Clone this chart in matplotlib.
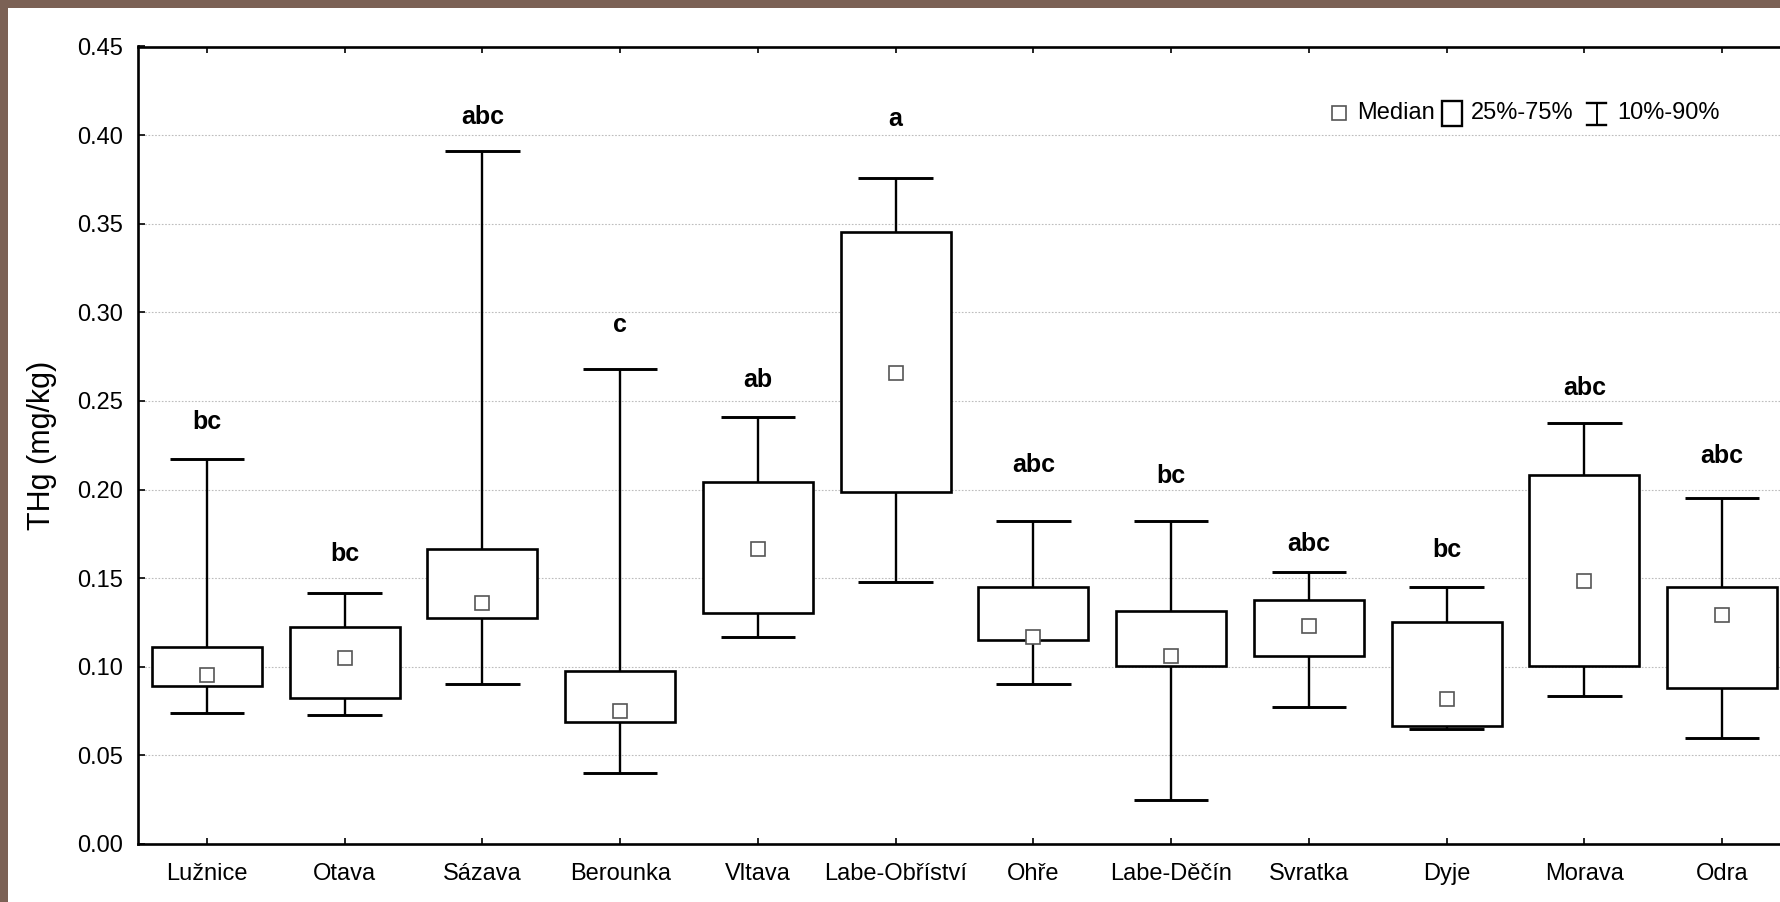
import matplotlib
matplotlib.use("Agg")
import matplotlib.pyplot as plt
from matplotlib.patches import Rectangle
from matplotlib.lines import Line2D

plt.rcParams['font.family'] = ['Liberation Sans', 'DejaVu Sans']

categories = ["Lužnice", "Otava", "Sázava", "Berounka", "Vltava", "Labe-Obříství",
              "Ohře", "Labe-Děčín", "Svratka", "Dyje", "Morava", "Odra"]
p10 = [0.0738, 0.0730, 0.0905, 0.0401, 0.1167, 0.1480, 0.0902, 0.0249, 0.0771, 0.0647, 0.0833, 0.0596]
q25 = [0.0889, 0.0823, 0.1273, 0.0687, 0.1303, 0.1985, 0.1150, 0.1003, 0.1060, 0.0668, 0.1003, 0.0878]
median = [0.0953, 0.1052, 0.1362, 0.0750, 0.1664, 0.2660, 0.1168, 0.1058, 0.1230, 0.0820, 0.1482, 0.1294]
q75 = [0.1114, 0.1222, 0.1665, 0.0977, 0.2040, 0.3455, 0.1452, 0.1313, 0.1376, 0.1255, 0.2081, 0.1448]
p90 = [0.2175, 0.1418, 0.3908, 0.2683, 0.2410, 0.3760, 0.1825, 0.1822, 0.1532, 0.1450, 0.2375, 0.1955]
letters = ["bc", "bc", "abc", "c", "ab", "a", "abc", "bc", "abc", "bc", "abc", "abc"]
letter_y = [0.2344, 0.1595, 0.4060, 0.2890, 0.2576, 0.4054, 0.2100, 0.2035, 0.1655, 0.1622, 0.2535, 0.2150]
yticks = [0.00, 0.05, 0.10, 0.15, 0.20, 0.25, 0.30, 0.35, 0.40, 0.45]
ylabel = "THg (mg/kg)"
legend_labels = ["Median", "25%-75%", "10%-90%"]

W, H = 1780, 902
fig = plt.figure(figsize=(W / 100, H / 100), dpi=100)
fig.patch.set_facecolor("white")

ax = fig.add_axes([138 / W, 1 - 844 / H, 1 - 138 / W, (844 - 46.5) / H])
ax.set_xlim(-0.5, 11.42)
ax.set_ylim(0, 0.45)

x = list(range(len(categories)))
box_w = 0.8
cap_w = 0.54
lw = 1.7

# whiskers
ax.vlines(x, p10, q25, colors="black", lw=lw, zorder=3)
ax.vlines(x, q75, p90, colors="black", lw=lw, zorder=3)
ax.hlines(p10, [i - cap_w / 2 for i in x], [i + cap_w / 2 for i in x], colors="black", lw=lw + 0.4, zorder=3)
ax.hlines(p90, [i - cap_w / 2 for i in x], [i + cap_w / 2 for i in x], colors="black", lw=lw + 0.4, zorder=3)
# boxes
heights = [b - a for a, b in zip(q25, q75)]
ax.bar(x, heights, bottom=q25, width=box_w, facecolor="white", edgecolor="black",
       linewidth=lw + 0.2, zorder=4, clip_on=False)
# medians
ax.plot(x, median, linestyle="none", marker="s", ms=10, mfc="white", mec="#555555", mew=1.2, zorder=5)
# letters
for xi, yi, t in zip(x, letter_y, letters):
    ax.text(xi, yi, t, ha="center", va="baseline", fontsize=18, fontweight="bold", zorder=6)

# axes styling
ax.set_yticks(yticks)
ax.set_yticklabels([f"{v:.2f}" for v in yticks])
ax.set_xticks(x)
ax.set_xticklabels(categories)
ax.tick_params(axis="y", direction="in", length=5, width=1.2, pad=11, labelsize=17, left=True, right=False)
ax.tick_params(axis="x", direction="in", length=4.5, width=1.2, pad=13.5, labelsize=17, top=True, bottom=True)
for s in ["left", "bottom", "top"]:
    ax.spines[s].set_linewidth(1.9)
ax.spines["right"].set_visible(False)
ax.yaxis.grid(True, linestyle=(0, (1.5, 1.5)), color="#bdbdbd", lw=0.8, zorder=0)
ax.set_axisbelow(True)
ax.set_ylabel(ylabel, fontsize=22)
ax.yaxis.set_label_coords((57 - 138) / 1642, 0.5)

# legend (custom, figure pixel coords)
def fx(px):
    return px / W

def fy(py):
    return 1 - py / H

fig.add_artist(Line2D([fx(1338.5)], [fy(113)], marker="s", ms=10, mfc="white", mec="#555555", mew=1.2,
                      linestyle="none", transform=fig.transFigure))
fig.text(fx(1357), fy(113), legend_labels[0], fontsize=17, ha="left", va="center")
fig.add_artist(Rectangle((fx(1442), fy(126)), fx(1462) - fx(1442), fy(101) - fy(126), facecolor="white",
                         edgecolor="black", lw=1.7, transform=fig.transFigure))
fig.text(fx(1471), fy(113), legend_labels[1], fontsize=17, ha="left", va="center")
fig.add_artist(Line2D([fx(1596.5), fx(1596.5)], [fy(103), fy(125)], color="black", lw=1.4, transform=fig.transFigure))
fig.add_artist(Line2D([fx(1587), fx(1606)], [fy(103), fy(103)], color="black", lw=1.7, transform=fig.transFigure))
fig.add_artist(Line2D([fx(1587), fx(1606)], [fy(125), fy(125)], color="black", lw=1.7, transform=fig.transFigure))
fig.text(fx(1617), fy(113), legend_labels[2], fontsize=17, ha="left", va="center")

# brown frame (top and left)
frame_col = "#7b6155"
fig.add_artist(Rectangle((0, 1 - 7.5 / H), 1, 7.5 / H, facecolor=frame_col, edgecolor="none", transform=fig.transFigure))
fig.add_artist(Rectangle((0, 0), 7.5 / W, 1, facecolor=frame_col, edgecolor="none", transform=fig.transFigure))

fig.savefig("out.png", dpi=100)
